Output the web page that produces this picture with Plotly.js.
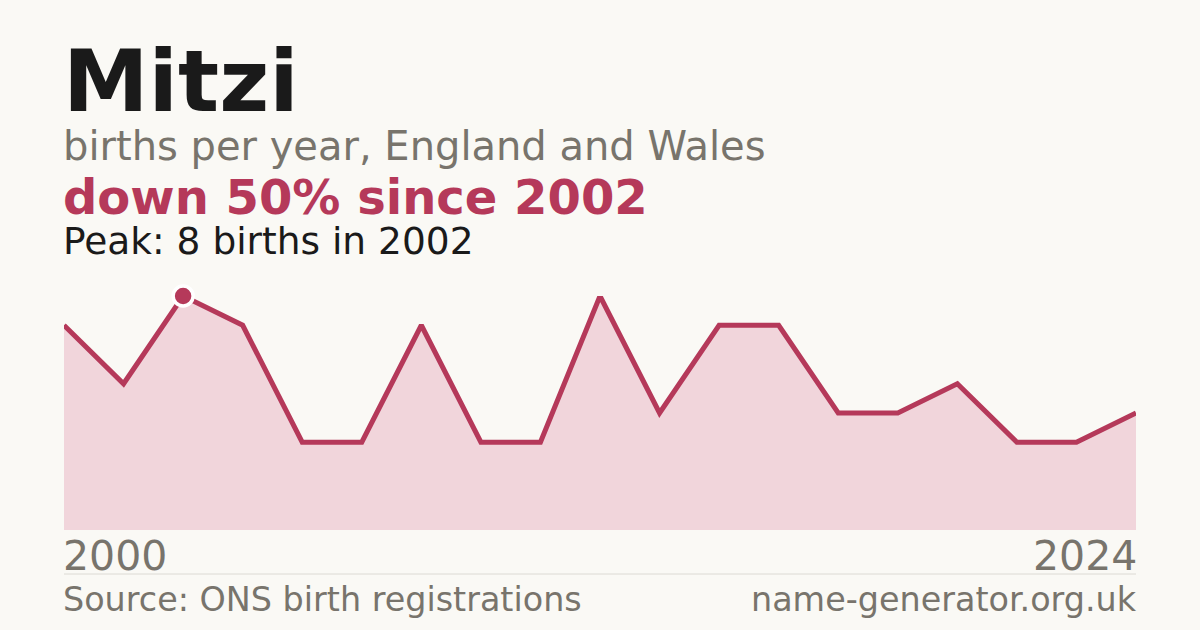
<!DOCTYPE html>
<html>
<head>
<meta charset="utf-8">
<script src="https://cdn.plot.ly/plotly-3.0.1.min.js"></script>
<style>
  html, body { margin: 0; padding: 0; background: #faf9f5; }
  #chart { width: 1200px; height: 630px; }
</style>
</head>
<body>
<div id="chart"></div>
<script>
// births per year (years with no record are skipped)
const births = [7, 5, 8, 7, 3, 3, 7, 3, 3, 8, 4, 7, 7, 4, 4, 5, 3, 3, 4];
const firstYear = '2000';
const lastYear = '2024';
const peakYear = '2002';

const RED = '#b5395a';
const GREY = '#78746c';
const FONT = 'DejaVu Sans, sans-serif';

function plotChart() {
    const xs = births.map((v, i) => i);
    const peak = Math.max(...births);
    const peakIdx = births.indexOf(peak);

    // plot area sits between y=296px and y=530px, this turns a pixel row into paper y
    const py = p => (530 - p) / 234;

    let area = {
        mode: 'lines',
        x: xs,
        y: births,
        fill: 'tozeroy',
        fillcolor: '#f1d5db',
        line: { color: RED, width: 5, shape: 'linear' },
        cliponaxis: false,
        hoverinfo: 'skip'
    };

    let peakDot = {
        mode: 'markers',
        x: [peakIdx],
        y: [peak],
        marker: { color: RED, size: 20, line: { color: '#ffffff', width: 3.5 } },
        cliponaxis: false,
        hoverinfo: 'skip'
    };

    // small text helper, xshift undoes the annotation padding so text lines up with the plot edge
    const note = (text, x, y, anchor, size, color, bold) => ({
        xref: 'paper', yref: 'paper',
        x: x, y: y,
        xanchor: anchor, yanchor: 'middle',
        xshift: anchor === 'left' ? -3 : 3,
        showarrow: false,
        text: bold ? '<b>' + text + '</b>' : text,
        font: { family: FONT, size: size, color: color }
    });

    const pct = Math.round((peak - births[births.length - 1]) / peak * 100);

    const layout = {
        width: 1200,
        height: 630,
        paper_bgcolor: '#faf9f5',
        plot_bgcolor: '#faf9f5',
        showlegend: false,
        margin: { l: 64, r: 64, t: 296, b: 100, pad: 0 },
        xaxis: { range: [0, births.length - 1], visible: false, fixedrange: true },
        yaxis: { range: [0, peak], visible: false, fixedrange: true },
        annotations: [
            note('Mitzi', 0, py(81), 'left', 86, '#1a1a1a', true),
            note('births per year, England and Wales', 0, py(146), 'left', 40, GREY, false),
            note('down ' + pct + '% since ' + peakYear, 0, py(197), 'left', 48, RED, true),
            note('Peak: ' + peak + ' births in ' + peakYear, 0, py(241), 'left', 37.5, '#1a1a1a', false),
            note(firstYear, 0, py(556), 'left', 41, GREY, false),
            note(lastYear, 1, py(556), 'right', 41, GREY, false),
            note('Source: ONS birth registrations', 0, py(599), 'left', 33.4, GREY, false),
            note('name-generator.org.uk', 1, py(599), 'right', 33.4, GREY, false)
        ],
        shapes: [{
            type: 'line', xref: 'paper', yref: 'paper',
            x0: 0, x1: 1, y0: py(574), y1: py(574),
            line: { color: '#dcdad4', width: 1 }
        }]
    };

    Plotly.newPlot('chart', [area, peakDot], layout, { staticPlot: true, displayModeBar: false });
}

plotChart();
</script>
</body>
</html>
